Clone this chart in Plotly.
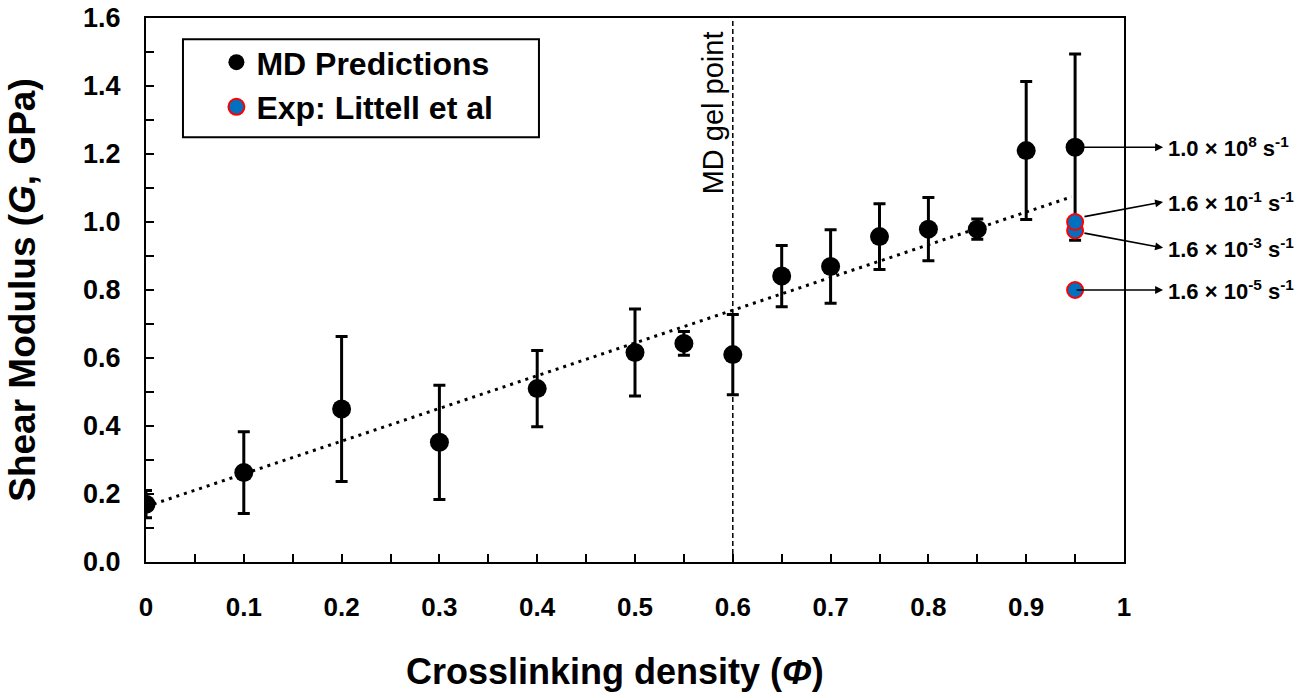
import plotly.graph_objects as go

# ---- data ----
md_x = [0, 0.1, 0.2, 0.3, 0.4, 0.5, 0.55, 0.6, 0.65, 0.7, 0.75, 0.8, 0.85, 0.9, 0.95]
md_y = [0.17, 0.263, 0.45, 0.352, 0.51, 0.616, 0.643, 0.61, 0.841, 0.869, 0.957, 0.979, 0.979, 1.21, 1.22]
md_err = [0.04, 0.12, 0.213, 0.168, 0.112, 0.128, 0.035, 0.118, 0.09, 0.108, 0.097, 0.093, 0.03, 0.203, 0.274]

exp_x = [0.95, 0.95, 0.95]
exp_y = [0.80, 0.975, 1.0]

trend_x = [0.0, 0.9465]
trend_y = [0.163, 1.074]

gel_point = 0.6

rate_labels = ["1.0 × 10<sup>8</sup> s<sup>-1</sup>",
               "1.6 × 10<sup>-1</sup> s<sup>-1</sup>",
               "1.6 × 10<sup>-3</sup> s<sup>-1</sup>",
               "1.6 × 10<sup>-5</sup> s<sup>-1</sup>"]
rate_point_y = [1.22, 1.015, 0.968, 0.80]
rate_label_y = [1.22, 1.059, 0.924, 0.80]
rate_point_x = [0.95, 0.958, 0.958, 0.95]
rate_head_x = 1.040
rate_text_x = 1.043

x_ticks = [0, 0.1, 0.2, 0.3, 0.4, 0.5, 0.6, 0.7, 0.8, 0.9, 1]
x_ticklabels = ["0", "0.1", "0.2", "0.3", "0.4", "0.5", "0.6", "0.7", "0.8", "0.9", "1"]

ARIAL = "Liberation Sans, Arial, sans-serif"

Y_RANGE = [0, 1.6]

fig = go.Figure()

fig.add_trace(go.Scatter(
    x=trend_x, y=trend_y, mode="lines", showlegend=False, hoverinfo="skip",
    line=dict(color="black", width=3, dash="3px,5px"),
))

fig.add_trace(go.Scatter(
    x=md_x, y=md_y, mode="markers", name="MD Predictions",
    marker=dict(color="black", size=19),
    error_y=dict(type="data", array=md_err, visible=True, color="black", thickness=3, width=6),
))

fig.add_trace(go.Scatter(
    x=exp_x, y=exp_y, mode="markers", name="Exp: Littell et al",
    marker=dict(color="#0070C0", size=16, line=dict(color="#FF0000", width=2)),
))

fig.add_shape(type="line", x0=gel_point, x1=gel_point, y0=Y_RANGE[0], y1=Y_RANGE[1],
              xref="x", yref="y",
              line=dict(color="black", width=1.5, dash="5px,3px"), layer="below")

# legend frame (paper coordinates)
fig.add_shape(type="rect", xref="paper", yref="paper",
              x0=0.0378, x1=0.4018, y0=0.781, y1=0.961,
              line=dict(color="black", width=2), fillcolor="white", layer="below")

annotations = [
    dict(x=gel_point, y=Y_RANGE[1], xref="x", yref="y", text="MD gel point", showarrow=False,
         textangle=-90, xanchor="right", yanchor="top", xshift=-2, yshift=-11,
         font=dict(family=ARIAL, size=29, color="black")),
    dict(x=0.4796, y=-0.202, xref="paper", yref="paper",
         text="Crosslinking density (<i>Φ</i>)", showarrow=False,
         xanchor="center", yanchor="middle",
         font=dict(family=ARIAL, size=36, color="black", weight="bold")),
]
for lab, py, ly, px in zip(rate_labels, rate_point_y, rate_label_y, rate_point_x):
    annotations.append(dict(
        x=rate_head_x, y=ly, ax=px, ay=py, xref="x", yref="y", axref="x", ayref="y",
        text="", showarrow=True, arrowhead=2, arrowsize=1, arrowwidth=1.6, arrowcolor="black",
        standoff=0, startstandoff=0))
    annotations.append(dict(
        x=rate_text_x, y=ly, xref="paper", yref="y", text=lab, showarrow=False,
        xanchor="left", yanchor="middle",
        font=dict(family=ARIAL, size=22, color="black", weight="bold")))

fig.update_layout(
    width=1309, height=698,
    margin=dict(l=146, r=185, t=18, b=136, autoexpand=False),
    paper_bgcolor="white", plot_bgcolor="white",
    font=dict(family=ARIAL, color="black"),
    showlegend=True,
    legend=dict(x=0.072, y=0.969, xanchor="left", yanchor="top",
                borderwidth=0, bgcolor="rgba(0,0,0,0)",
                font=dict(family=ARIAL, size=32, color="black", weight="bold"),
                itemsizing="trace", tracegroupgap=11, traceorder="grouped"),
    annotations=annotations,
    xaxis=dict(
        range=[0, 1], tickvals=x_ticks, ticktext=x_ticklabels, automargin=False,
        showgrid=False, zeroline=False,
        showline=True, linecolor="black", linewidth=2, mirror=True,
        ticks="inside", ticklen=8, tickwidth=1.5, tickcolor="black",
        minor=dict(ticks="inside", dtick=0.05, ticklen=8, tickwidth=1.5, tickcolor="black"),
        ticklabelstandoff=21,
        tickfont=dict(family=ARIAL, size=26, color="black", weight="bold"),
    ),
    yaxis=dict(
        range=Y_RANGE, dtick=0.2, tickformat=".1f", automargin=False,
        showgrid=False, zeroline=False,
        showline=True, linecolor="black", linewidth=2, mirror=True,
        ticks="inside", ticklen=8, tickwidth=1.5, tickcolor="black",
        minor=dict(ticks="inside", dtick=0.1, ticklen=8, tickwidth=1.5, tickcolor="black"),
        ticklabelstandoff=18,
        tickfont=dict(family=ARIAL, size=27, color="black", weight="bold"),
        title=dict(text="Shear Modulus (<i>G</i>, GPa)", standoff=36,
                   font=dict(family=ARIAL, size=37, color="black", weight="bold")),
    ),
)

fig.write_html("out.html")
